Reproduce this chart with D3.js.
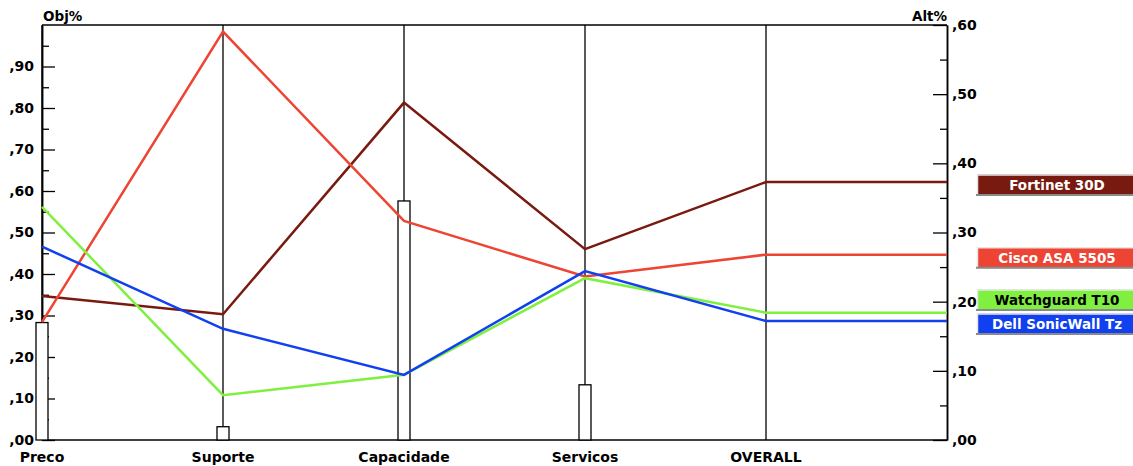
<!DOCTYPE html>
<html>
<head>
<meta charset="utf-8">
<script src="https://cdn.jsdelivr.net/npm/d3@7"></script>
<style>
  html, body { margin: 0; padding: 0; background: #fff; }
  svg { display: block; }
  text { font-family: "DejaVu Sans", "Liberation Sans", Arial, sans-serif; font-weight: bold; }
</style>
</head>
<body>
<svg id="chart" width="1133" height="466"></svg>
<script>
// ---- data ----
const categories = ["Preco", "Suporte", "Capacidade", "Servicos", "OVERALL"];
const weights = [0.283, 0.032, 0.576, 0.133];           // bars, Obj% (left axis)
const seriesNames = ["Fortinet 30D", "Cisco ASA 5505", "Watchguard T10", "Dell SonicWall Tz"];
const fortinet   = [0.347, 0.303, 0.813, 0.460];
const cisco      = [0.284, 0.984, 0.528, 0.394];
const watchguard = [0.562, 0.108, 0.157, 0.390];
const dell       = [0.466, 0.268, 0.157, 0.407];
const overall    = [0.373, 0.268, 0.184, 0.172];        // Alt% (right axis)
const seriesColors = ["#781a10", "#ee4433", "#80f040", "#1040f0"];
const legendText = ["#ffffff", "#ffffff", "#000000", "#ffffff"];
const leftTicks  = [0, 0.1, 0.2, 0.3, 0.4, 0.5, 0.6, 0.7, 0.8, 0.9];
const leftTickLabels = [",00", ",10", ",20", ",30", ",40", ",50", ",60", ",70", ",80", ",90"];
const rightTicks = [0, 0.1, 0.2, 0.3, 0.4, 0.5, 0.6];
const rightTickLabels = [",00", ",10", ",20", ",30", ",40", ",50", ",60"];

const seriesValues = [fortinet, cisco, watchguard, dell];

// ---- layout ----
const svg = d3.select("#chart");
const pL = 42, pR = 947, pT = 25, pB = 440;
const x = d3.scaleLinear().domain([0, categories.length]).range([pL, pR]);
const yL = d3.scaleLinear().domain([0, 1]).range([pB, pT]);
const yR = d3.scaleLinear().domain([0, 0.6]).range([pB, pT]);

// frame top & bottom
svg.append("line").attr("x1", pL).attr("x2", pR).attr("y1", pT).attr("y2", pT)
  .attr("stroke", "#000").attr("stroke-width", 1.5);
svg.append("line").attr("x1", pL).attr("x2", pR).attr("y1", pB).attr("y2", pB)
  .attr("stroke", "#000").attr("stroke-width", 1.5);

// category vertical lines
svg.append("g").selectAll("line").data(categories).join("line")
  .attr("x1", (d, i) => x(i)).attr("x2", (d, i) => x(i))
  .attr("y1", pT).attr("y2", pB)
  .attr("stroke", "#000").attr("stroke-width", 1.3);

// category labels
svg.append("g").selectAll("text").data(categories).join("text")
  .attr("x", (d, i) => x(i)).attr("y", 462)
  .attr("text-anchor", "middle").attr("font-size", 14).attr("fill", "#000")
  .text(d => d);

// left axis
const gL = svg.append("g").attr("transform", `translate(${pL},0)`);
gL.call(d3.axisLeft(yL).tickValues(leftTicks)
  .tickFormat((d, i) => leftTickLabels[i])
  .tickSizeInner(-13).tickSizeOuter(0).tickPadding(8));
gL.append("g").call(d3.axisLeft(yL).tickValues(d3.range(0.05, 1, 0.1)).tickFormat("")
  .tickSizeInner(-7).tickSizeOuter(0));
gL.selectAll(".domain").attr("stroke-width", 1.5);
gL.selectAll("text").attr("font-size", 14).attr("font-family", null).attr("fill", "#000");
gL.selectAll(".tick line").attr("stroke-width", 1.3);

// right axis
const gR = svg.append("g").attr("transform", `translate(${pR},0)`);
gR.call(d3.axisRight(yR).tickValues(rightTicks)
  .tickFormat((d, i) => rightTickLabels[i])
  .tickSizeInner(-14).tickSizeOuter(0).tickPadding(5));
gR.append("g").call(d3.axisRight(yR).tickValues(d3.range(0.05, 0.6, 0.1)).tickFormat("")
  .tickSizeInner(-7).tickSizeOuter(0));
gR.selectAll(".domain").attr("stroke-width", 1.5);
gR.selectAll("text").attr("font-size", 14).attr("font-family", null).attr("fill", "#000");
gR.selectAll(".tick line").attr("stroke-width", 1.3);

// axis titles
svg.append("text").attr("x", pL + 1).attr("y", 21).attr("font-size", 13.5).text("Obj%");
svg.append("text").attr("x", pR).attr("y", 21).attr("font-size", 13.5)
  .attr("text-anchor", "end").text("Alt%");

// weight bars
const barW = 12;
svg.append("g").selectAll("rect").data(weights).join("rect")
  .attr("x", (d, i) => x(i) - barW / 2).attr("width", barW)
  .attr("y", d => yL(d)).attr("height", d => pB - yL(d))
  .attr("fill", "#fff").attr("stroke", "#000").attr("stroke-width", 1.3);

// series lines
const lineGen = d3.line().x(d => d[0]).y(d => d[1]);
seriesValues.forEach((vals, s) => {
  const pts = vals.map((v, i) => [x(i), yL(v)]);
  pts.push([x(4), yR(overall[s])]);
  pts.push([x(5), yR(overall[s])]);
  svg.append("path").attr("d", lineGen(pts))
    .attr("fill", "none").attr("stroke", seriesColors[s]).attr("stroke-width", 2.5)
    .attr("stroke-linejoin", "miter");
});

// legend boxes (placed at OVERALL values, pushed apart)
const boxH = 21, gap = 24, boxX = 977, boxW = 160;
const order = d3.range(seriesNames.length).sort((a, b) => yR(overall[b]) - yR(overall[a]));
const centers = {};
let prev = null;
order.forEach(i => {
  let c = yR(overall[i]) + 3;
  if (prev !== null && c > prev - gap) c = prev - gap;
  centers[i] = c; prev = c;
});
const lg = svg.append("g");
seriesNames.forEach((name, i) => {
  const cy = centers[i];
  const g = lg.append("g");
  g.append("rect").attr("x", boxX).attr("y", cy - boxH / 2).attr("width", boxW).attr("height", boxH)
    .attr("fill", seriesColors[i]);
  g.append("line").attr("x1", boxX).attr("x2", boxX + boxW).attr("y1", cy - boxH / 2 + 0.5).attr("y2", cy - boxH / 2 + 0.5)
    .attr("stroke", "#e6e6e6").attr("stroke-width", 1.5);
  g.append("line").attr("x1", boxX + 0.5).attr("x2", boxX + 0.5).attr("y1", cy - boxH / 2).attr("y2", cy + boxH / 2)
    .attr("stroke", "#e6e6e6").attr("stroke-width", 1.5);
  g.append("line").attr("x1", boxX - 1).attr("x2", boxX + boxW).attr("y1", cy + boxH / 2 - 0.5).attr("y2", cy + boxH / 2 - 0.5)
    .attr("stroke", "#8a8a8a").attr("stroke-width", 2);
  g.append("text").attr("x", 1057).attr("y", cy + 5).attr("text-anchor", "middle")
    .attr("font-size", 13.5).attr("fill", legendText[i]).text(name);
});
</script>
</body>
</html>
